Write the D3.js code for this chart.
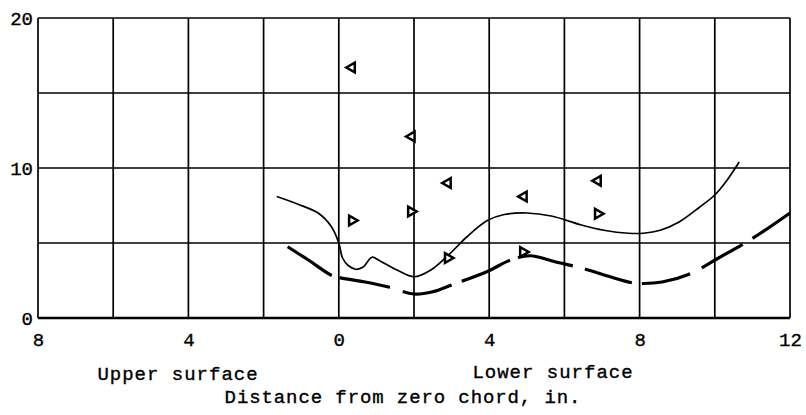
<!DOCTYPE html>
<html>
<head>
<meta charset="utf-8">
<script src="https://cdn.jsdelivr.net/npm/d3@7"></script>
<style>
  html, body { margin: 0; padding: 0; background: #fff; }
  svg text { font-family: "Liberation Mono", "Courier New", monospace; fill: #000; stroke: #000; stroke-width: 0.35px; }
</style>
</head>
<body>
<svg id="chart" width="806" height="415"></svg>
<script>
// ---- data ----
const xTickValues = [-8, -4, 0, 4, 8, 12];
const xTickLabels = ["8", "4", "0", "4", "8", "12"];
const yTickValues = [0, 10, 20];
const xGridValues = [-8, -6, -4, -2, 0, 2, 4, 6, 8, 10, 12];
const yGridValues = [0, 5, 10, 15, 20];

// solid (thin) curve
const solidX = [-1.65, -1.1, -0.55, -0.2, 0.0, 0.1, 0.25, 0.45, 0.65, 0.88, 1.1, 1.55, 2.0, 2.45, 3.0, 3.4, 3.95, 4.4, 5.0, 5.65, 6.45, 7.05, 7.7, 8.1, 8.55, 9.05, 9.6, 10.0, 10.3, 10.65];
const solidY = [8.1, 7.6, 7.0, 6.1, 5.0, 4.0, 3.5, 3.25, 3.4, 4.05, 3.8, 3.2, 2.75, 3.2, 4.4, 5.4, 6.5, 6.9, 7.0, 6.8, 6.2, 5.85, 5.65, 5.65, 5.85, 6.4, 7.4, 8.2, 9.1, 10.4];

// dashed (heavy) curve
const dashX = [-1.36, -0.8, -0.2, 0.0, 0.7, 1.35, 2.0, 2.5, 3.0, 3.95, 4.6, 5.1, 5.75, 6.5, 7.15, 7.8, 8.1, 8.6, 9.3, 10.1, 11.0, 12.0];
const dashY = [4.75, 3.85, 2.85, 2.7, 2.4, 2.05, 1.6, 1.75, 2.2, 3.1, 3.9, 4.15, 3.75, 3.3, 2.8, 2.35, 2.3, 2.4, 2.9, 4.0, 5.3, 7.0];
// where the breaks in the dashed curve start and end (x values)
const dashGapStart = [-0.19, 1.36, 3.0, 4.55, 6.22, 7.79, 9.34, 10.74];
const dashGapEnd   = [0.02, 1.70, 3.27, 4.76, 6.54, 8.06, 9.65, 11.0];

// left-pointing triangle symbols
const leftX = [0.35, 1.94, 2.9, 4.92, 6.89];
const leftY = [16.7, 12.1, 9.0, 8.1, 9.15];
// right-pointing triangle symbols
const rightX = [0.35, 1.92, 2.9, 4.9, 6.89];
const rightY = [6.5, 7.1, 4.0, 4.4, 6.95];

const labelUpper = "Upper surface";
const labelLower = "Lower surface";
const labelAxis = "Distance from zero chord, in.";

// ---- drawing ----
const svg = d3.select("#chart");
const x = d3.scaleLinear().domain([-8, 12]).range([38, 790]);
const y = d3.scaleLinear().domain([0, 20]).range([318, 18]);
const fs = 19;

// grid
const grid = svg.append("g");
grid.selectAll("line.v").data(xGridValues).join("line")
  .attr("x1", d => x(d)).attr("x2", d => x(d))
  .attr("y1", y(0)).attr("y2", y(20))
  .attr("stroke", "#000").attr("stroke-width", 1.7);
grid.selectAll("line.h").data(yGridValues).join("line")
  .attr("y1", d => y(d)).attr("y2", d => y(d))
  .attr("x1", x(-8)).attr("x2", x(12))
  .attr("stroke", "#000").attr("stroke-width", d => d === 0 ? 2.6 : 1.7);

// axes (labels only)
const xAxis = d3.axisBottom(x).tickValues(xTickValues)
  .tickFormat((d, i) => xTickLabels[i]).tickSize(0).tickPadding(15);
const gx = svg.append("g").attr("transform", `translate(0,${y(0)})`).call(xAxis);
gx.select(".domain").remove();
gx.selectAll("text").attr("font-size", fs).style("font-family", '"Liberation Mono", monospace');

const yAxis = d3.axisLeft(y).tickValues(yTickValues).tickSize(0).tickPadding(5);
const gy = svg.append("g").attr("transform", `translate(${x(-8)},0)`).call(yAxis);
gy.select(".domain").remove();
gy.selectAll("text").attr("font-size", fs).style("font-family", '"Liberation Mono", monospace');

// curves
const line = d3.line().x(d => x(d[0])).y(d => y(d[1])).curve(d3.curveCatmullRom.alpha(0.5));
svg.append("path")
  .attr("d", line(d3.zip(solidX, solidY)))
  .attr("fill", "none").attr("stroke", "#000").attr("stroke-width", 1.7);
const dashPath = svg.append("path")
  .attr("d", line(d3.zip(dashX, dashY)))
  .attr("fill", "none").attr("stroke", "#000").attr("stroke-width", 3.2);

// build dash pattern from the gap positions along the curve
const node = dashPath.node();
const L = node.getTotalLength();
function lenAtX(xv) {
  const px = x(xv);
  let lo = 0, hi = L;
  for (let k = 0; k < 40; k++) {
    const mid = (lo + hi) / 2;
    if (node.getPointAtLength(mid).x < px) lo = mid; else hi = mid;
  }
  return (lo + hi) / 2;
}
const dashes = [];
let prev = 0;
dashGapStart.forEach((gs, i) => {
  const a = lenAtX(gs), b = lenAtX(dashGapEnd[i]);
  dashes.push(a - prev, b - a);
  prev = b;
});
dashes.push(L - prev + 5, 1000);
dashPath.attr("stroke-dasharray", dashes.map(v => v.toFixed(2)).join(","));

// symbols
const tri = d3.symbol().type(d3.symbolTriangle).size(42);
svg.append("g").selectAll("path").data(d3.zip(leftX, leftY)).join("path")
  .attr("d", tri)
  .attr("transform", d => `translate(${x(d[0])},${y(d[1])}) rotate(-90)`)
  .attr("fill", "#fff").attr("stroke", "#000").attr("stroke-width", 2.5);
svg.append("g").selectAll("path").data(d3.zip(rightX, rightY)).join("path")
  .attr("d", tri)
  .attr("transform", d => `translate(${x(d[0])},${y(d[1])}) rotate(90)`)
  .attr("fill", "#fff").attr("stroke", "#000").attr("stroke-width", 2.5);

// labels
svg.append("text").attr("x", 178).attr("y", 380).attr("text-anchor", "middle")
  .attr("font-size", fs).attr("letter-spacing", 1).text(labelUpper);
svg.append("text").attr("x", 553).attr("y", 378).attr("text-anchor", "middle")
  .attr("font-size", fs).attr("letter-spacing", 1).text(labelLower);
svg.append("text").attr("x", 403).attr("y", 403).attr("text-anchor", "middle")
  .attr("font-size", fs).attr("letter-spacing", 0.9).text(labelAxis);
</script>
</body>
</html>
